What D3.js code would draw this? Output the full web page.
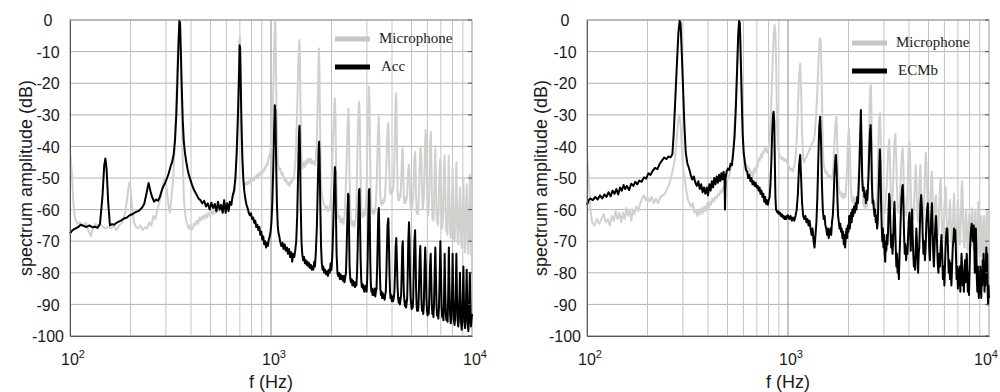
<!DOCTYPE html>
<html>
<head>
<meta charset="utf-8">
<script src="https://cdn.jsdelivr.net/npm/d3@7/dist/d3.min.js"></script>
<style>
  body { margin: 0; background: #fff; }
  svg { display: block; }
</style>
</head>
<body>
<svg id="chart" width="1000" height="392"></svg>
<script>
// axis ticks
const yTicks = [0, -10, -20, -30, -40, -50, -60, -70, -80, -90, -100];
const decadeTicks = [100, 1000, 10000];
const decadeLabels = [["10", "2"], ["10", "3"], ["10", "4"]];
const minorFreqs = [200, 300, 400, 500, 600, 700, 800, 900, 2000, 3000, 4000, 5000, 6000, 7000, 8000, 9000];

// left panel: accelerometer spectrum [f (Hz), dB]
const accSpectrum = [
  [100,-67.5],[103,-66.5],[106,-66],[110,-65.5],[113,-64.8],[117,-65.2],[121,-65.5],[125,-65],[129,-65.6],[133,-65.4],[137,-65.8],[141,-64.5],[145,-56],[148,-46],[150,-43.8],[152,-47],[155,-58],[158,-65],[162,-64.6],[166,-64.8],[170,-64.2],[175,-63.8],[180,-63.4],[186,-62.8],[192,-62.5],[198,-61.8],[205,-61.4],[212,-60.8],[220,-60.4],[228,-59.4],[234,-58.2],[240,-55],[246,-51.6],[251,-54],[256,-56],[262,-57.5],[268,-56.8],[274,-57.2],[280,-56],[286,-54],[292,-52.5],[298,-51.5],[304,-50],[310,-48.5],[316,-46.5],[322,-45],[328,-42.5],[333,-38],[338,-30],[342,-20],[346,-9],[350,-0.3],[353,-1],[356,-10],[360,-22],[364,-32],[368,-38],[373,-42],[378,-44.5],[384,-47],[390,-49],[397,-50.5],[404,-52],[412,-53.5],[420,-54.5],[428,-55.5],[436,-56.5],[445,-57],[455,-58],[465,-57.2],[475,-59],[485,-58],[495,-60],[505,-57.8],[515,-59.5],[525,-58.2],[535,-60.5],[545,-57.5],[555,-60],[565,-58.5],[575,-61],[585,-57],[595,-61],[605,-58],[615,-60.5],[625,-57.5],[635,-58.5],[645,-55.5],[655,-54],[665,-50],[675,-42],[685,-30],[693,-18],[698,-8],[702,-9],[707,-20],[713,-33],[720,-43],[728,-50],[736,-54],[745,-56.5],[755,-58.5],[765,-59.5],[775,-61],[785,-61.8],[795,-61.2],[805,-63],[815,-62.5],[825,-64.2],[835,-63.5],[845,-65.5],[855,-64.8],[865,-66.5],[875,-65.5],[885,-68],[895,-67],[905,-69.5],[915,-68.5],[925,-71],[935,-70],[945,-72],[955,-70.5],[965,-71.5],[975,-69.5],[985,-68.5],[995,-67],[1005,-64],[1015,-58],[1025,-48],[1035,-36],[1045,-27],[1052,-29],[1060,-44],[1070,-58],[1080,-65],[1090,-67.5],[1100,-68.5],
  [1110,-70],[1125,-71.5],[1140,-70.5],[1155,-72.5],[1170,-71],[1185,-73],[1200,-72],[1215,-74],[1230,-72.5],[1245,-75],[1260,-73.5],[1275,-76.5],[1290,-74],[1305,-75],[1320,-73],[1335,-70],[1350,-62],[1365,-48],[1378,-36],[1386,-33.5],[1394,-40],[1405,-58],[1418,-70],[1430,-74],[1445,-76],[1460,-75],[1475,-77],[1490,-76],[1505,-77.5],[1520,-76.5],[1535,-78],[1550,-77],[1565,-78.5],[1580,-77.5],[1595,-79],[1610,-78],[1625,-79],[1640,-76.5],[1655,-78],[1670,-74],[1690,-66],[1710,-52],[1725,-41],[1735,-38.5],[1745,-43],[1760,-60],[1775,-72],[1790,-77],[1805,-79],[1820,-78],[1840,-80],[1860,-79],[1880,-80.5],[1900,-79.5],[1920,-81],[1940,-79],[1960,-80],[1980,-77],[2000,-79],[2020,-74],[2040,-65],[2060,-54],[2078,-46.5],[2090,-48],[2105,-62],[2120,-74],[2140,-80],[2160,-81],[2180,-80],[2200,-82],[2220,-80.5],[2240,-82],[2260,-81],[2280,-82.5],[2300,-81],[2320,-83],[2340,-81.5],[2360,-80],[2380,-72],[2400,-62],[2420,-55],[2432,-55.5],[2445,-66],[2460,-78],[2480,-82],[2500,-83],[2520,-82],[2540,-84],[2560,-82.5],[2580,-84],[2600,-83],[2620,-84.5],[2640,-83],[2660,-84],[2680,-80],[2700,-72],[2720,-62],[2740,-54],[2755,-53.5],[2770,-62],[2790,-75],[2810,-82],[2830,-84.5],[2850,-83.5],[2870,-85],[2890,-84],[2910,-86],[2930,-84.5],[2950,-85.5],[2970,-84],[2990,-86],[3010,-82],[3030,-74],[3050,-62],[3070,-54],[3085,-53.5],[3100,-63],[3120,-77],[3140,-84],[3160,-86],[3180,-85],[3200,-87],[3225,-85.5],[3250,-87],[3275,-85],[3300,-87.5],[3325,-86],[3350,-85],[3375,-78],[3400,-68],[3420,-61],[3440,-59.5],[3455,-66],[3475,-78],[3500,-85],[3525,-87],[3550,-86],[3575,-88],[3600,-86.5],[3625,-88],[3650,-87],[3675,-88.5],[3700,-87],[3725,-86],[3750,-80],[3775,-72],[3800,-65],[3835,-62.8],[3860,-70],[3885,-80],[3910,-86],[3935,-88],[3960,-87],[3990,-89],[4020,-87.5],[4050,-89],[4080,-88],[4110,-86],[4140,-80],[4170,-72],[4200,-69],[4230,-76],[4260,-84],[4290,-88],[4320,-89.5],[4350,-88],[4380,-90],[4410,-88.5],[4440,-87],[4470,-80],[4500,-72],[4525,-70],[4550,-78],[4580,-86],[4610,-89],[4640,-90.5],[4670,-89],[4700,-91],[4730,-89.5],[4760,-88],[4790,-80],[4820,-70],[4860,-64],[4890,-70],[4920,-82],[4950,-88],[4980,-90],[5010,-91.5],[5040,-90],[5070,-91],[5100,-88],[5130,-79],[5170,-70],[5210,-66.5],[5240,-74],[5270,-85],[5300,-90],[5330,-92],[5360,-90.5],[5390,-92],[5420,-90],[5450,-84],[5490,-76],[5530,-71.5],[5560,-78],[5600,-88],[5640,-92],[5680,-90.5],[5720,-93],[5760,-90],[5800,-80],[5850,-72],[5890,-78],[5930,-88],[5970,-92],[6010,-93.5],[6050,-91],[6090,-93],[6130,-88],[6180,-78],[6230,-74],[6270,-82],[6310,-90],[6350,-93],[6390,-91.5],[6430,-94],[6470,-90],[6520,-80],[6570,-72],[6610,-80],[6660,-90],[6700,-93.5],[6750,-92],[6800,-94.5],[6850,-91],[6900,-82],[6960,-70],[7010,-80],[7060,-91],[7110,-94],[7160,-92],[7210,-95],[7260,-88],[7310,-74],[7360,-86],[7410,-93],[7460,-95],[7510,-93],[7560,-95.5],[7610,-88],[7670,-72],[7720,-84],[7780,-93],[7840,-96],[7900,-94],[7950,-88],[8010,-74],[8070,-88],[8130,-95],[8190,-96.5],[8250,-94],[8300,-86],[8360,-74],[8420,-87],[8480,-95],[8540,-97],[8600,-95],[8660,-88],[8710,-80],[8770,-90],[8830,-96],[8890,-98],[8950,-95],[9010,-86],[9060,-78],[9120,-89],[9180,-96],[9240,-97.5],[9300,-95],[9360,-86],[9410,-79],[9470,-90],[9530,-96],[9590,-98.5],[9650,-95],[9710,-86],[9760,-80],[9820,-90],[9880,-97],[9940,-95],[10000,-93]
];

// left panel: microphone spectrum
const micSpectrumA = [
  [100,-41],[102,-48],[104,-58],[106,-63],[109,-64.5],[112,-64],[116,-65],[120,-64.2],[124,-67],[127,-68.5],[130,-66],[134,-64.5],[138,-65.5],[142,-64.8],[146,-65.5],[150,-66],[155,-65.5],[160,-66],[165,-65],[170,-66.5],[176,-65],[182,-64],[188,-61],[193,-56],[197,-51.5],[200,-53],[204,-60],[208,-64],[213,-65.5],[218,-66],[224,-65],[230,-66.5],[236,-65.5],[242,-66],[248,-64],[254,-65],[260,-62],[266,-63],[272,-60],[278,-58],[284,-55],[290,-52],[296,-50],[302,-53],[308,-58],[314,-61],[320,-56],[326,-50],[332,-40],[338,-25],[344,-10],[349,-1],[352,-2],[356,-14],[360,-30],[364,-45],[368,-55],[372,-60],[376,-62.5],[380,-64],[385,-65],[390,-66],[396,-65],[402,-66.5],[408,-65.8],[414,-64.5],[420,-65],[427,-63.5],[434,-64.5],[441,-62.5],[448,-63.5],[456,-62],[464,-63],[472,-61.5],[480,-62.5],[488,-61],[496,-62],[505,-60.5],[514,-61.5],[523,-60],[532,-61],[541,-59.5],[550,-60.5],[560,-59],[570,-59.5],[580,-58.5],[590,-59],[600,-58],[610,-58.5],[620,-57.5],[630,-58],[640,-56.5],[650,-55.5],[660,-54],[670,-48],[680,-36],[690,-20],[697,-6],[701,-5.5],[706,-16],[712,-32],[718,-44],[725,-50],[732,-52],[740,-52.5],[750,-51.5],[760,-52],[770,-51],[780,-51.8],[790,-50.5],[800,-51.2],[810,-50],[820,-50.8],[830,-49.5],[840,-50.2],[850,-49],[860,-50],[870,-48.5],[880,-49.2],[890,-48],[900,-48.8],[910,-47.5],[920,-48],[930,-46.5],[940,-47],[950,-45.5],[960,-46],[970,-44],[980,-43],[990,-42],[1000,-40.5],[1010,-37],[1020,-30],[1030,-18],[1040,-6],[1047,-0.5],[1052,-1],[1058,-12],[1065,-28],[1075,-40],[1085,-46],[1100,-47.5],[1115,-47],[1130,-49],[1145,-48.5],[1160,-50],[1175,-51],[1190,-50.5],[1205,-52],[1220,-51.5],[1235,-52.5],[1250,-51],[1265,-51.5],[1280,-50],[1295,-50.5],[1310,-48],[1325,-44],[1340,-35],[1355,-24],[1370,-12],[1382,-6.3],[1392,-10],[1402,-28],[1415,-42],[1430,-47],[1445,-46],[1460,-45],[1475,-46.5],[1490,-44.5],[1505,-45.5],[1520,-44],[1535,-45.2],[1550,-43.8],[1565,-45],[1580,-44],[1595,-45.5],[1610,-44.5],[1625,-45.5],[1640,-44.8],[1655,-46],[1670,-44],[1690,-38],[1710,-25],[1725,-12],[1733,-9],[1742,-15],[1755,-35],[1770,-50],[1785,-54],[1800,-56],[1820,-57.5],[1840,-58.5],[1860,-59],[1880,-60],[1900,-59],[1920,-60.5],[1940,-59.5],[1960,-60],[1980,-57],[2000,-52],[2020,-44],[2040,-36],[2060,-29],[2078,-24.8],[2092,-30],[2110,-48],[2130,-58],[2150,-62],[2170,-63],[2190,-62],[2210,-64],[2230,-62.5],[2250,-64],[2270,-63],[2290,-64.5],[2310,-63],[2330,-61],[2350,-55],[2370,-48],[2390,-40],[2410,-32],[2428,-28],[2442,-34],[2460,-50],[2480,-60],[2500,-64],[2520,-65],[2540,-63.5],[2560,-65],[2580,-64],[2600,-65.5],[2620,-64],[2640,-63],[2660,-58],[2680,-48],[2700,-38],[2720,-30],[2745,-25.8],[2765,-31],[2785,-46],[2805,-58],[2825,-62],[2845,-61],[2865,-62.5],[2885,-61],[2905,-62],[2925,-60],[2945,-61.5],[2965,-59],[2985,-55],[3005,-46],[3025,-36],[3045,-28],[3075,-21.1],[3095,-28],[3115,-44],[3135,-56],[3155,-60],[3180,-61],[3205,-60],[3230,-61.5],[3255,-60],[3280,-61],[3305,-59.5],[3330,-57],[3355,-52],[3380,-44],[3405,-36],[3435,-30.6],[3455,-36],[3475,-48],[3495,-56],[3520,-58],[3545,-57],[3570,-58.5],[3595,-57.5],[3620,-58],[3645,-56.5],[3670,-57.5],[3695,-55],[3720,-52],[3750,-46],[3780,-38],[3810,-34],[3835,-32.7],[3855,-38],[3880,-48],[3905,-54],[3930,-55],[3960,-54],[3990,-55],[4020,-53.5],[4050,-54],[4080,-51],[4110,-44],[4140,-34],[4170,-26],[4195,-23.2],[4215,-30],[4240,-44],[4265,-54],[4290,-57],[4320,-56],[4350,-57],[4380,-55],[4410,-56],[4440,-52],[4470,-46],[4500,-41],[4520,-40.6],[4545,-46],[4575,-55],[4605,-58],[4635,-57],[4665,-58],[4695,-56],[4725,-57],[4755,-55],[4790,-50],[4830,-47],[4860,-45.9],[4890,-49],[4925,-57],[4960,-60],[4995,-59],[5030,-60],[5065,-58],[5100,-56],[5135,-50],[5170,-44],[5205,-41.7],[5235,-46],[5270,-56],[5305,-61],[5340,-60],[5375,-61.5],[5410,-59],[5445,-55],[5490,-47],[5535,-41],[5570,-40],[5605,-45],[5640,-54],[5680,-60],[5720,-59],[5760,-56],[5800,-48],[5840,-39],[5880,-34.8],[5920,-40],[5960,-52],[6000,-60],[6040,-62],[6080,-61],[6120,-56],[6160,-46],[6200,-38],[6240,-35.4],[6275,-44],[6315,-56],[6355,-63],[6395,-62],[6435,-63.5],[6475,-58],[6520,-48],[6565,-40.6],[6605,-47],[6650,-60],[6695,-64],[6740,-63],[6785,-65],[6830,-58],[6875,-50],[6920,-45],[6960,-44],[7000,-50],[7050,-62],[7100,-66],[7150,-65],[7200,-58],[7250,-48],[7300,-42.7],[7350,-50],[7400,-62],[7450,-67],[7500,-66],[7550,-68],[7600,-56],[7660,-43],[7710,-54],[7770,-66],[7830,-69],[7890,-67],[7950,-58],[8010,-47],[8070,-60],[8130,-69],[8190,-70],[8250,-66],[8300,-54],[8360,-45],[8420,-58],[8480,-70],[8540,-71],[8600,-66],[8660,-58],[8720,-53],[8780,-64],[8840,-71],[8900,-72],[8960,-64],[9010,-55],[9060,-50],[9120,-62],[9180,-72],[9240,-73.5],[9300,-66],[9360,-57],[9410,-52],[9470,-62],[9530,-71],[9590,-74],[9650,-68],[9710,-57],[9760,-49],[9820,-62],[9880,-72],[9940,-75],[10000,-72]
];

// right panel: ECMb spectrum
const ecmbSpectrum = [
  [100,-58.5],[102,-57],[104,-56.5],[107,-57],[110,-56],[113,-56.8],[116,-55.5],[119,-56.5],[122,-55.2],[125,-56],[128,-54.5],[131,-55.8],[134,-54],[137,-55],[140,-53.5],[143,-55.2],[146,-53],[149,-54],[152,-52.2],[155,-53.5],[158,-52.5],[162,-53.8],[166,-51.8],[170,-52.5],[174,-51.2],[178,-52],[182,-50.8],[187,-51.2],[192,-49.8],[197,-50.2],[202,-48.5],[207,-49],[212,-47.8],[218,-46.8],[224,-47.2],[230,-45.5],[236,-44.5],[242,-43.5],[248,-44],[254,-43.2],[260,-43.5],[266,-42.5],[270,-36],[275,-25],[280,-14],[285,-4],[289,-0.3],[292,-1],[296,-10],[300,-20],[305,-33],[310,-42],[316,-45.5],[322,-47],[328,-49],[334,-50.5],[340,-49.5],[346,-51.5],[352,-52.5],[358,-51],[364,-53.5],[370,-52],[376,-54.5],[382,-53],[388,-55],[394,-53],[400,-55.5],[406,-52],[412,-54],[418,-51],[424,-53],[430,-50],[436,-52],[442,-49.5],[448,-51.5],[454,-49],[460,-51],[466,-48.5],[472,-50.5],[478,-48],[483,-50],[486,-60],[489,-50],[495,-48],[502,-47],[510,-47.5],[518,-45.5],[526,-46],[534,-42],[542,-37],[550,-28],[558,-16],[565,-5],[571,-0.3],[576,-1],[582,-12],[588,-24],[595,-36],[602,-42],[610,-45],[618,-47.5],[626,-48],[634,-50],[642,-49],[650,-51],[658,-50],[666,-52],[674,-51],[682,-52.5],[690,-51.5],[698,-53],[706,-52.5],[714,-54],[722,-53],[730,-55],[738,-54],[746,-56],[754,-55],[762,-57.5],[770,-56],[778,-58.2],[786,-57],[794,-58.5],[802,-57],[810,-56],[818,-52],[826,-45],[834,-36],[842,-30],[848,-29],[854,-32],[860,-45],[866,-56],[872,-60],[880,-60.5],[888,-61],[896,-60.5],[905,-61.5],[914,-61],[923,-62],[932,-61.5],[941,-62.5],[950,-62],[960,-63],[970,-62.2],[980,-63],[990,-62],[1000,-61.8],[1015,-63],[1030,-62],[1045,-63.5],[1060,-62.5],[1075,-63.5],[1090,-62],[1105,-60],[1120,-55],[1135,-46],[1150,-42.7],[1162,-50],[1175,-58],[1190,-62],[1205,-63],[1220,-62],[1235,-64],[1250,-63],[1265,-65],[1280,-63.5],[1295,-66],[1310,-68],[1325,-66],[1340,-70],[1355,-72],[1370,-68],[1385,-64],[1400,-56],[1415,-44],[1430,-34],[1445,-30.6],[1460,-38],[1475,-52],[1490,-60],[1505,-63],[1520,-62],[1535,-65],[1550,-66],[1565,-68],[1580,-66],[1595,-69],[1610,-67],[1625,-66],[1640,-68],[1655,-64],[1670,-62],[1685,-57],[1700,-50],[1715,-45],[1730,-42.7],[1745,-47],[1760,-56],[1775,-62],[1790,-64],[1805,-66],[1820,-64.5],[1835,-67],[1850,-66],[1865,-69],[1880,-67],[1895,-71],[1910,-68],[1925,-72],[1940,-68],[1955,-66],[1970,-69],[1985,-65],[2000,-67],[2015,-62],[2030,-66],[2045,-63],[2060,-61],[2075,-64],[2090,-60],[2110,-62],[2130,-59],[2150,-61],[2170,-58],[2190,-60],[2210,-56],[2230,-58],[2250,-52],[2270,-45],[2290,-35],[2305,-28.5],[2320,-38],[2340,-50],[2360,-54],[2380,-53],[2400,-56],[2420,-55],[2440,-58],[2460,-54],[2480,-57],[2500,-53],[2520,-48],[2540,-40],[2560,-35],[2578,-33.2],[2595,-40],[2615,-52],[2635,-58],[2655,-57],[2675,-60],[2695,-62],[2715,-60],[2735,-64],[2755,-62],[2775,-66],[2795,-64],[2815,-58],[2840,-48],[2865,-41],[2885,-46],[2905,-58],[2925,-65],[2945,-70],[2965,-66],[2985,-72],[3005,-68],[3025,-74],[3045,-76.5],[3065,-70],[3085,-73],[3105,-68],[3125,-71],[3145,-67],[3165,-60],[3185,-55],[3210,-57],[3235,-66],[3260,-72],[3285,-68],[3310,-74],[3335,-70],[3360,-62],[3385,-57.5],[3410,-64],[3435,-72],[3460,-78],[3485,-74],[3510,-80],[3535,-76],[3560,-82],[3585,-75],[3610,-70],[3640,-62],[3670,-56],[3700,-53],[3725,-52.2],[3750,-58],[3780,-68],[3810,-74],[3840,-71],[3870,-76],[3900,-72],[3930,-74],[3960,-68],[3990,-63],[4020,-61],[4050,-67],[4080,-73],[4110,-66],[4140,-60],[4170,-68],[4200,-74],[4230,-78],[4260,-75],[4290,-79],[4320,-72],[4350,-66],[4380,-70],[4410,-76],[4440,-80],[4470,-74],[4500,-72],[4530,-65],[4560,-58],[4600,-55.4],[4640,-60],[4680,-68],[4720,-74],[4760,-70],[4800,-76],[4840,-72],[4880,-64],[4920,-60],[4960,-58],[5000,-64],[5040,-72],[5080,-76],[5120,-68],[5160,-62],[5200,-58],[5240,-66],[5280,-74],[5320,-78],[5360,-72],[5400,-66],[5450,-62],[5500,-68],[5550,-76],[5600,-80],[5650,-74],[5700,-78],[5750,-72],[5800,-68],[5850,-74],[5900,-82],[5950,-78],[6000,-84],[6050,-76],[6100,-70],[6150,-66],[6200,-66],[6250,-72],[6300,-80],[6350,-76],[6400,-82],[6450,-77],[6500,-84],[6550,-78],[6600,-72],[6650,-70],[6700,-66],[6750,-70],[6800,-66.5],[6850,-74],[6900,-82],[6950,-78],[7000,-85],[7050,-79],[7100,-84],[7150,-78],[7200,-86],[7250,-80],[7300,-74],[7350,-78],[7400,-84],[7450,-80],[7500,-86],[7550,-79],[7600,-76],[7650,-83],[7700,-78],[7750,-74],[7800,-80],[7850,-86],[7900,-80],[7950,-87],[8000,-80],[8050,-72],[8100,-68],[8150,-66],[8200,-64.5],[8250,-66],[8300,-70],[8350,-66],[8400,-65],[8450,-72],[8500,-80],[8550,-74],[8600,-66],[8650,-72],[8700,-82],[8750,-86],[8800,-78],[8850,-84],[8900,-88],[8950,-82],[9000,-86],[9050,-78],[9100,-82],[9150,-88],[9200,-80],[9250,-84],[9300,-76],[9350,-82],[9400,-74],[9450,-80],[9500,-86],[9550,-78],[9600,-84],[9650,-76],[9700,-72],[9750,-80],[9800,-74],[9850,-86],[9900,-90],[9950,-84],[10000,-88]
];

// right panel: microphone spectrum
const micSpectrumB = [
  [100,-42.7],[102,-50],[104,-60],[106,-64],[109,-65],[112,-63],[115,-64.5],[118,-63],[121,-61.5],[124,-64],[127,-63],[130,-65],[133,-62],[136,-63.5],[139,-60.5],[142,-63],[145,-61],[148,-64],[151,-61],[154,-63],[157,-59.5],[160,-62],[163,-60],[166,-63.5],[169,-60],[172,-61.5],[176,-59],[180,-60.5],[184,-58],[188,-56.5],[192,-55.5],[196,-57],[200,-56],[205,-57.5],[210,-56],[215,-58],[220,-56.5],[226,-58],[232,-56],[238,-55.5],[244,-55],[250,-53.5],[256,-52],[262,-50],[268,-47],[274,-44],[279,-38],[284,-32],[288,-30],[292,-33],[296,-40],[300,-46],[306,-50],[312,-54],[318,-57],[324,-58],[330,-59],[336,-58],[342,-61],[348,-60],[354,-62],[360,-60.5],[366,-61.5],[372,-59.5],[378,-61],[384,-59],[390,-60.5],[396,-58],[402,-59.5],[408,-57.5],[414,-58.5],[420,-56.5],[427,-57.5],[434,-56],[441,-56.5],[448,-55],[455,-55.5],[462,-54],[469,-54.5],[476,-53],[483,-53.5],[490,-52],[497,-51],[504,-50],[511,-49],[518,-47],[525,-45],[532,-42],[540,-36],[548,-28],[556,-18],[564,-8],[572,-3],[578,-4],[584,-15],[592,-30],[600,-42],[608,-45],[616,-47],[625,-46],[634,-48.5],[643,-47],[652,-49],[661,-48],[670,-49.5],[679,-47],[688,-48],[697,-46],[706,-46.5],[715,-44],[724,-44.5],[733,-42.5],[742,-43.5],[751,-41.5],[760,-42],[770,-40.5],[780,-41],[790,-42],[800,-40],[810,-38],[820,-32],[830,-22],[840,-12],[850,-4],[858,-1.6],[866,-4],[874,-16],[882,-32],[892,-40],[902,-42],[912,-43],[925,-44],[940,-43.5],[955,-44.5],[970,-44],[985,-45],[1000,-45.9],[1015,-46.5],[1030,-47.5],[1045,-47],[1060,-48],[1075,-46],[1090,-44],[1105,-38],[1120,-28],[1135,-18],[1150,-13.7],[1162,-22],[1175,-36],[1190,-44],[1205,-45],[1220,-44],[1240,-43],[1260,-42],[1280,-41],[1300,-40],[1320,-39],[1340,-38.5],[1360,-36],[1380,-30],[1400,-22],[1420,-12],[1440,-6],[1450,-5.8],[1460,-9],[1475,-24],[1490,-40],[1505,-46],[1520,-47],[1540,-48.5],[1560,-48],[1580,-49.5],[1600,-49],[1620,-50],[1640,-49.5],[1660,-50.5],[1680,-47],[1700,-40],[1720,-33],[1740,-30.6],[1755,-36],[1770,-48],[1790,-53],[1810,-55],[1830,-54.5],[1850,-56],[1870,-55],[1890,-56.5],[1910,-55],[1930,-56],[1950,-52],[1970,-46],[1990,-38],[2010,-34.3],[2030,-40],[2050,-52],[2070,-56],[2090,-57.5],[2110,-56],[2130,-58],[2150,-56.5],[2170,-58],[2190,-56],[2210,-57],[2230,-54],[2250,-48],[2270,-40],[2290,-36],[2310,-35],[2330,-42],[2350,-54],[2370,-58],[2390,-59],[2410,-58],[2430,-60],[2450,-58],[2470,-59],[2490,-55],[2510,-46],[2530,-36],[2550,-26],[2570,-21],[2585,-20.6],[2600,-28],[2620,-45],[2640,-55],[2660,-58],[2680,-59.5],[2700,-58],[2720,-60],[2740,-58.5],[2760,-59],[2780,-55],[2800,-46],[2820,-38],[2845,-31],[2870,-29.5],[2890,-36],[2910,-50],[2930,-57],[2950,-60],[2970,-59],[2990,-61],[3010,-59.5],[3030,-61],[3050,-58],[3075,-56],[3100,-52],[3130,-46],[3160,-40],[3190,-37.7],[3215,-44],[3240,-55],[3265,-60],[3290,-58],[3315,-56],[3340,-50],[3365,-43],[3390,-38],[3420,-36],[3450,-42],[3480,-52],[3510,-59],[3540,-61],[3570,-60],[3600,-58],[3630,-52],[3660,-46],[3690,-42],[3720,-40.6],[3750,-46],[3780,-56],[3810,-61],[3840,-60],[3870,-62],[3900,-59],[3930,-54],[3960,-46],[3990,-40],[4020,-38.5],[4050,-44],[4080,-53],[4110,-60],[4140,-63],[4170,-61],[4200,-63],[4230,-60],[4260,-55],[4290,-50],[4320,-46],[4350,-50],[4380,-58],[4410,-63],[4440,-64],[4470,-60],[4500,-54],[4530,-48],[4560,-46],[4590,-52],[4620,-61],[4650,-64],[4690,-65],[4730,-62],[4770,-55],[4810,-47],[4850,-42],[4890,-46],[4930,-56],[4970,-64],[5010,-66],[5050,-65],[5090,-60],[5130,-54],[5170,-49],[5210,-48],[5250,-58],[5290,-66],[5330,-66],[5370,-60],[5410,-56],[5450,-55.5],[5490,-61],[5530,-66],[5570,-68],[5610,-66],[5650,-60],[5700,-52],[5750,-50],[5800,-60],[5850,-68],[5900,-69],[5950,-66],[6000,-60],[6050,-55],[6100,-53],[6150,-62],[6200,-69],[6250,-70],[6300,-66],[6350,-61],[6400,-57],[6450,-63],[6500,-69],[6550,-71],[6600,-67],[6650,-60],[6700,-55],[6750,-61],[6800,-69],[6850,-71],[6900,-68],[6950,-62],[7000,-57],[7050,-60],[7100,-67],[7150,-71],[7200,-69],[7250,-62],[7300,-54],[7350,-51],[7400,-57],[7450,-66],[7500,-71],[7550,-72],[7600,-68],[7650,-62],[7700,-60],[7750,-66],[7800,-72],[7850,-73],[7900,-69],[7950,-63],[8000,-61],[8050,-66],[8100,-72],[8150,-70],[8200,-63],[8250,-59.6],[8300,-64],[8350,-71],[8400,-73],[8450,-68],[8500,-62],[8550,-60],[8600,-65],[8650,-72],[8700,-74],[8750,-70],[8800,-62],[8850,-57.5],[8900,-64],[8950,-73],[9000,-75],[9050,-70],[9100,-63],[9150,-62],[9200,-68],[9250,-74],[9300,-76],[9350,-70],[9400,-64],[9450,-62],[9500,-66],[9550,-73],[9600,-76],[9650,-71],[9700,-64],[9750,-60.6],[9800,-66],[9850,-74],[9900,-77],[9950,-72],[10000,-68]
];

const micColor = "#d2d0cc";
const sensorColor = "#000";

const panels = [
  { left: 70, titleX: 32, legendDy: 0, labels: ["Microphone", "Acc"], mic: micSpectrumA, sensor: accSpectrum },
  { left: 587, titleX: 547, legendDy: 4, labels: ["Microphone", "ECMb"], mic: micSpectrumB, sensor: ecmbSpectrum }
];

const plotW = 402, plotTop = 20, plotH = 316;
const svg = d3.select("#chart");
const sansFont = "'Liberation Sans', Arial, Helvetica, sans-serif";
const serifFont = "'Liberation Serif', 'Times New Roman', serif";

panels.forEach(p => {
  const x = d3.scaleLog().domain([100, 10000]).range([p.left, p.left + plotW]);
  const y = d3.scaleLinear().domain([-100, 0]).range([plotTop + plotH, plotTop]);
  const g = svg.append("g");

  // grid
  g.selectAll(".hgrid").data(yTicks).enter().append("line")
    .attr("x1", x(100)).attr("x2", x(10000))
    .attr("y1", d => y(d)).attr("y2", d => y(d))
    .attr("stroke", "#b3b3b3").attr("stroke-width", 1);
  g.selectAll(".vgrid").data(minorFreqs).enter().append("line")
    .attr("x1", d => x(d)).attr("x2", d => x(d))
    .attr("y1", y(0)).attr("y2", y(-100))
    .attr("stroke", "#c4c4c4").attr("stroke-width", 1);
  g.append("line")
    .attr("x1", x(1000)).attr("x2", x(1000))
    .attr("y1", y(0)).attr("y2", y(-100))
    .attr("stroke", "#8c8c8c").attr("stroke-width", 1);

  // frame
  g.append("rect")
    .attr("x", x(100)).attr("y", y(0))
    .attr("width", plotW).attr("height", plotH)
    .attr("fill", "none").attr("stroke", "#9a9a9a").attr("stroke-width", 1);

  // spectra
  const line = d3.line().x(d => x(d[0])).y(d => y(d[1]));
  g.append("path").datum(p.mic)
    .attr("d", line).attr("fill", "none")
    .attr("stroke", micColor).attr("stroke-width", 2).attr("stroke-linejoin", "round");
  g.append("path").datum(p.sensor)
    .attr("d", line).attr("fill", "none")
    .attr("stroke", sensorColor).attr("stroke-width", 2).attr("stroke-linejoin", "round");

  // axes lines (left & bottom)
  const yAxis = d3.axisLeft(y).tickValues(yTicks).tickSize(0).tickFormat(d => d);
  const ya = g.append("g").attr("transform", `translate(${x(100)},0)`).call(yAxis);
  ya.select(".domain").attr("stroke", "#555");
  ya.selectAll("text")
    .attr("x", -22).attr("dy", "0.35em")
    .attr("text-anchor", "middle")
    .attr("font-family", sansFont).attr("font-size", 16).attr("fill", "#1a1a1a");

  const xAxis = d3.axisBottom(x).tickValues(decadeTicks).tickSize(0).tickFormat(() => "");
  const xa = g.append("g").attr("transform", `translate(0,${y(-100)})`).call(xAxis);
  xa.select(".domain").attr("stroke", "#555");

  // right-edge inward ticks
  g.selectAll(".rtick").data(yTicks).enter().append("line")
    .attr("x1", x(10000) - 4).attr("x2", x(10000))
    .attr("y1", d => y(d)).attr("y2", d => y(d))
    .attr("stroke", "#555");

  // decade labels with superscript (kept inside the page)
  const dl = g.selectAll(".dlabel").data(decadeTicks).enter().append("text")
    .attr("x", d => Math.min(x(d) + 3, 986)).attr("y", 365)
    .attr("text-anchor", "middle")
    .attr("font-family", sansFont).attr("font-size", 16).attr("fill", "#1a1a1a");
  dl.append("tspan").text((d, i) => decadeLabels[i][0]);
  dl.append("tspan").attr("dy", -7).attr("font-size", 11).text((d, i) => decadeLabels[i][1]);

  // axis titles
  g.append("text")
    .attr("x", (x(100) + x(10000)) / 2).attr("y", 388)
    .attr("text-anchor", "middle")
    .attr("font-family", sansFont).attr("font-size", 18).attr("fill", "#1a1a1a")
    .text("f (Hz)");
  g.append("text")
    .attr("transform", `translate(${p.titleX},${(y(0) + y(-100)) / 2}) rotate(-90)`)
    .attr("text-anchor", "middle")
    .attr("font-family", sansFont).attr("font-size", 18).attr("fill", "#1a1a1a")
    .text("spectrum amplitude (dB)");

  // legend
  const legendItems = [
    { label: p.labels[0], color: "#c6c6c6" },
    { label: p.labels[1], color: "#000" }
  ];
  const lg = g.append("g").attr("transform", `translate(${p.left + 265},${39 + p.legendDy})`);
  lg.selectAll("line").data(legendItems).enter().append("line")
    .attr("x1", 0).attr("x2", 35)
    .attr("y1", (d, i) => i * 28).attr("y2", (d, i) => i * 28)
    .attr("stroke", d => d.color).attr("stroke-width", 5);
  lg.selectAll("text").data(legendItems).enter().append("text")
    .attr("x", (d, i) => i === 0 ? 44 : 46).attr("y", (d, i) => i * 28 + 4)
    .attr("font-family", serifFont).attr("font-size", 15).attr("fill", "#222")
    .text(d => d.label);
});
</script>
</body>
</html>
